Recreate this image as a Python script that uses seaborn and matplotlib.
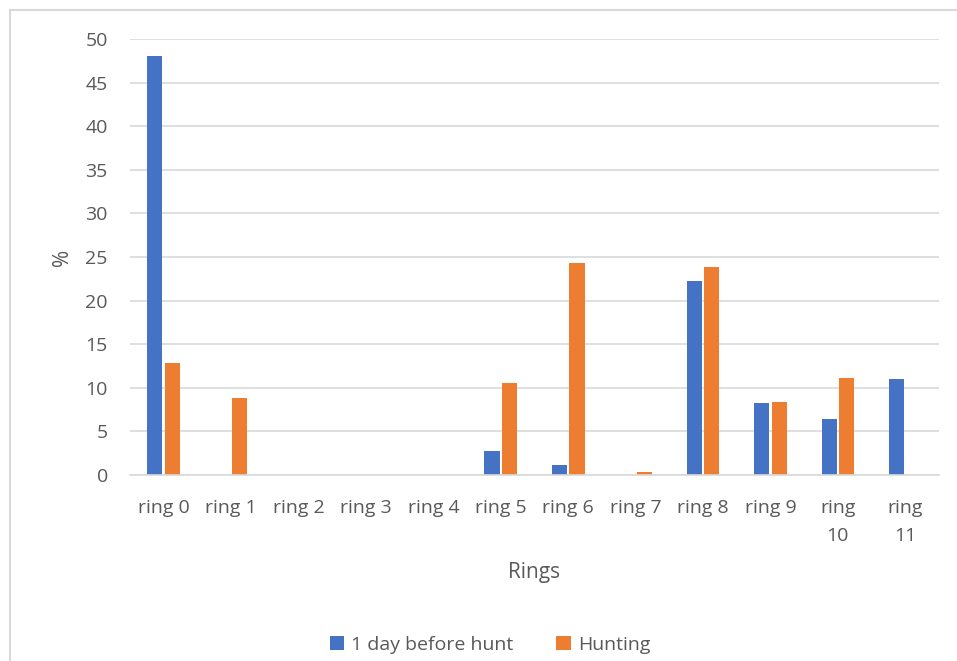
import pandas as pd
import matplotlib
matplotlib.use("Agg")
import matplotlib.pyplot as plt
import seaborn as sns
from matplotlib.patches import Rectangle

# values
rings = ["ring 0", "ring 1", "ring 2", "ring 3", "ring 4", "ring 5",
         "ring 6", "ring 7", "ring 8", "ring 9", "ring\n10", "ring\n11"]
before_hunt = [48.0, 0, 0, 0, 0, 2.8, 1.1, 0, 22.3, 8.3, 6.45, 11.05]
hunting = [12.8, 8.8, 0, 0, 0, 10.55, 24.35, 0.3, 23.9, 8.35, 11.1, 0]
series_names = ["1 day before hunt", "Hunting"]

df = pd.DataFrame({
    "ring": rings * 2,
    "value": before_hunt + hunting,
    "series": [series_names[0]] * len(rings) + [series_names[1]] * len(rings),
})

sns.set_style("white")
plt.rcParams["font.family"] = ["Open Sans", "DejaVu Sans"]
txt = "#595959"

fig = plt.figure(figsize=(9.57, 6.61), dpi=100)
ax = fig.add_axes([130 / 957, 1 - 475 / 661, (939 - 130) / 957, (475 - 39) / 661])

sns.barplot(data=df, x="ring", y="value", hue="series", ax=ax,
            palette=["#4472c4", "#ed7d31"], saturation=1, width=0.52, gap=0.14,
            linewidth=0, legend=True)

ax.set_ylim(0, 50)
ax.set_yticks(range(0, 51, 5))
ax.yaxis.grid(True, color="#d9d9d9", linewidth=1.2)
ax.set_axisbelow(True)
for s in ["top", "right", "left"]:
    ax.spines[s].set_visible(False)
ax.spines["bottom"].set_color("#d9d9d9")
ax.spines["bottom"].set_linewidth(1.2)
ax.tick_params(axis="both", length=0, labelsize=14, colors=txt)
ax.tick_params(axis="y", pad=16)
ax.tick_params(axis="x", pad=17)
for lab in ax.get_xticklabels():
    lab.set_linespacing(1.75)

ax.set_xlabel("Rings", fontsize=15, color=txt, labelpad=12)
ax.set_ylabel("%", fontsize=15, color=txt, labelpad=9)

ax.legend(loc="center", bbox_to_anchor=(0.445, 1 - (645 - 39) / 436), ncol=2,
          frameon=False, fontsize=14, labelcolor=txt, handlelength=0.75,
          handleheight=0.75, handletextpad=0.35, columnspacing=2.2)

# outer chart border
fig.patches.append(Rectangle((10 / 957, -0.1), 1.2, 1 - 10 / 661 + 0.1,
                             transform=fig.transFigure, fill=False,
                             edgecolor="#d9d9d9", linewidth=1.5))

fig.savefig("out.png", dpi=100)
